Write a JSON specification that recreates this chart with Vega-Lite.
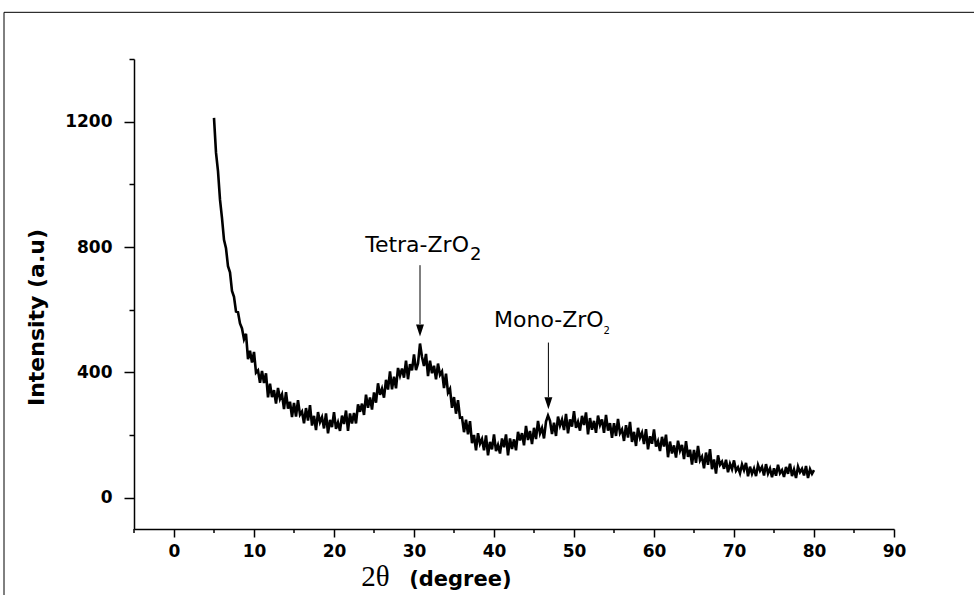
{
  "$schema": "https://vega.github.io/schema/vega-lite/v6.json",
  "width": 760,
  "height": 470,
  "autosize": "none",
  "padding": {"left": 134, "top": 59, "right": 80, "bottom": 66},
  "background": "white",
  "config": {"view": {"stroke": null}},
  "datasets": {
    "xrd": [
{"angle":5,"intensity":1212},{"angle":5.25,"intensity":1101},{"angle":5.5,"intensity":1042},{"angle":5.75,"intensity":951},{"angle":6,"intensity":892},{"angle":6.25,"intensity":823},{"angle":6.5,"intensity":796},{"angle":6.75,"intensity":739},{"angle":7,"intensity":719},{"angle":7.25,"intensity":660},{"angle":7.5,"intensity":641},{"angle":7.75,"intensity":594},{"angle":8,"intensity":592},{"angle":8.25,"intensity":556},{"angle":8.5,"intensity":540},{"angle":8.75,"intensity":506},{"angle":9,"intensity":523},{"angle":9.25,"intensity":442},{"angle":9.5,"intensity":469},{"angle":9.75,"intensity":431},{"angle":10,"intensity":465},{"angle":10.25,"intensity":399},{"angle":10.5,"intensity":406},{"angle":10.75,"intensity":367},{"angle":11,"intensity":404},{"angle":11.25,"intensity":366},{"angle":11.5,"intensity":397},{"angle":11.75,"intensity":320},{"angle":12,"intensity":364},{"angle":12.25,"intensity":321},{"angle":12.5,"intensity":343},{"angle":12.75,"intensity":300},{"angle":13,"intensity":350},{"angle":13.25,"intensity":315},{"angle":13.5,"intensity":330},{"angle":13.75,"intensity":283},{"angle":14,"intensity":337},{"angle":14.25,"intensity":284},{"angle":14.5,"intensity":306},{"angle":14.75,"intensity":257},{"angle":15,"intensity":302},{"angle":15.25,"intensity":259},{"angle":15.5,"intensity":311},{"angle":15.75,"intensity":265},{"angle":16,"intensity":275},{"angle":16.25,"intensity":237},{"angle":16.5,"intensity":286},{"angle":16.75,"intensity":246},{"angle":17,"intensity":295},{"angle":17.25,"intensity":230},{"angle":17.5,"intensity":261},{"angle":17.75,"intensity":216},{"angle":18,"intensity":273},{"angle":18.25,"intensity":241},{"angle":18.5,"intensity":257},{"angle":18.75,"intensity":221},{"angle":19,"intensity":269},{"angle":19.25,"intensity":205},{"angle":19.5,"intensity":248},{"angle":19.75,"intensity":225},{"angle":20,"intensity":273},{"angle":20.25,"intensity":220},{"angle":20.5,"intensity":240},{"angle":20.75,"intensity":213},{"angle":21,"intensity":262},{"angle":21.25,"intensity":235},{"angle":21.5,"intensity":278},{"angle":21.75,"intensity":213},{"angle":22,"intensity":269},{"angle":22.25,"intensity":237},{"angle":22.5,"intensity":270},{"angle":22.75,"intensity":237},{"angle":23,"intensity":298},{"angle":23.25,"intensity":274},{"angle":23.5,"intensity":300},{"angle":23.75,"intensity":264},{"angle":24,"intensity":329},{"angle":24.25,"intensity":287},{"angle":24.5,"intensity":320},{"angle":24.75,"intensity":281},{"angle":25,"intensity":336},{"angle":25.25,"intensity":303},{"angle":25.5,"intensity":365},{"angle":25.75,"intensity":328},{"angle":26,"intensity":348},{"angle":26.25,"intensity":319},{"angle":26.5,"intensity":376},{"angle":26.75,"intensity":345},{"angle":27,"intensity":403},{"angle":27.25,"intensity":346},{"angle":27.5,"intensity":386},{"angle":27.75,"intensity":349},{"angle":28,"intensity":414},{"angle":28.25,"intensity":389},{"angle":28.5,"intensity":412},{"angle":28.75,"intensity":383},{"angle":29,"intensity":437},{"angle":29.25,"intensity":378},{"angle":29.5,"intensity":426},{"angle":29.75,"intensity":406},{"angle":30,"intensity":457},{"angle":30.25,"intensity":407},{"angle":30.5,"intensity":428},{"angle":30.75,"intensity":492},{"angle":31,"intensity":449},{"angle":31.25,"intensity":420},{"angle":31.5,"intensity":459},{"angle":31.75,"intensity":388},{"angle":32,"intensity":437},{"angle":32.25,"intensity":397},{"angle":32.5,"intensity":421},{"angle":32.75,"intensity":378},{"angle":33,"intensity":428},{"angle":33.25,"intensity":392},{"angle":33.5,"intensity":403},{"angle":33.75,"intensity":350},{"angle":34,"intensity":396},{"angle":34.25,"intensity":335},{"angle":34.5,"intensity":347},{"angle":34.75,"intensity":287},{"angle":35,"intensity":321},{"angle":35.25,"intensity":268},{"angle":35.5,"intensity":311},{"angle":35.75,"intensity":255},{"angle":36,"intensity":256},{"angle":36.25,"intensity":209},{"angle":36.5,"intensity":249},{"angle":36.75,"intensity":202},{"angle":37,"intensity":244},{"angle":37.25,"intensity":174},{"angle":37.5,"intensity":200},{"angle":37.75,"intensity":151},{"angle":38,"intensity":206},{"angle":38.25,"intensity":172},{"angle":38.5,"intensity":187},{"angle":38.75,"intensity":151},{"angle":39,"intensity":199},{"angle":39.25,"intensity":135},{"angle":39.5,"intensity":178},{"angle":39.75,"intensity":154},{"angle":40,"intensity":202},{"angle":40.25,"intensity":149},{"angle":40.5,"intensity":168},{"angle":40.75,"intensity":141},{"angle":41,"intensity":189},{"angle":41.25,"intensity":161},{"angle":41.5,"intensity":202},{"angle":41.75,"intensity":135},{"angle":42,"intensity":189},{"angle":42.25,"intensity":155},{"angle":42.5,"intensity":186},{"angle":42.75,"intensity":151},{"angle":43,"intensity":210},{"angle":43.25,"intensity":183},{"angle":43.5,"intensity":206},{"angle":43.75,"intensity":167},{"angle":44,"intensity":229},{"angle":44.25,"intensity":184},{"angle":44.5,"intensity":213},{"angle":44.75,"intensity":171},{"angle":45,"intensity":223},{"angle":45.25,"intensity":187},{"angle":45.5,"intensity":245},{"angle":45.75,"intensity":205},{"angle":46,"intensity":222},{"angle":46.25,"intensity":189},{"angle":46.5,"intensity":243},{"angle":46.75,"intensity":262},{"angle":47,"intensity":245},{"angle":47.25,"intensity":203},{"angle":47.5,"intensity":239},{"angle":47.75,"intensity":197},{"angle":48,"intensity":259},{"angle":48.25,"intensity":230},{"angle":48.5,"intensity":249},{"angle":48.75,"intensity":216},{"angle":49,"intensity":267},{"angle":49.25,"intensity":205},{"angle":49.5,"intensity":250},{"angle":49.75,"intensity":227},{"angle":50,"intensity":276},{"angle":50.25,"intensity":223},{"angle":50.5,"intensity":242},{"angle":50.75,"intensity":214},{"angle":51,"intensity":261},{"angle":51.25,"intensity":232},{"angle":51.5,"intensity":272},{"angle":51.75,"intensity":202},{"angle":52,"intensity":254},{"angle":52.25,"intensity":217},{"angle":52.5,"intensity":245},{"angle":52.75,"intensity":207},{"angle":53,"intensity":262},{"angle":53.25,"intensity":232},{"angle":53.5,"intensity":250},{"angle":53.75,"intensity":207},{"angle":54,"intensity":264},{"angle":54.25,"intensity":214},{"angle":54.5,"intensity":238},{"angle":54.75,"intensity":191},{"angle":55,"intensity":238},{"angle":55.25,"intensity":197},{"angle":55.5,"intensity":251},{"angle":55.75,"intensity":206},{"angle":56,"intensity":218},{"angle":56.25,"intensity":181},{"angle":56.5,"intensity":231},{"angle":56.75,"intensity":192},{"angle":57,"intensity":242},{"angle":57.25,"intensity":178},{"angle":57.5,"intensity":210},{"angle":57.75,"intensity":165},{"angle":58,"intensity":223},{"angle":58.25,"intensity":191},{"angle":58.5,"intensity":207},{"angle":58.75,"intensity":171},{"angle":59,"intensity":219},{"angle":59.25,"intensity":154},{"angle":59.5,"intensity":196},{"angle":59.75,"intensity":172},{"angle":60,"intensity":218},{"angle":60.25,"intensity":163},{"angle":60.5,"intensity":180},{"angle":60.75,"intensity":149},{"angle":61,"intensity":194},{"angle":61.25,"intensity":163},{"angle":61.5,"intensity":201},{"angle":61.75,"intensity":129},{"angle":62,"intensity":179},{"angle":62.25,"intensity":141},{"angle":62.5,"intensity":167},{"angle":62.75,"intensity":128},{"angle":63,"intensity":182},{"angle":63.25,"intensity":150},{"angle":63.5,"intensity":168},{"angle":63.75,"intensity":123},{"angle":64,"intensity":180},{"angle":64.25,"intensity":130},{"angle":64.5,"intensity":153},{"angle":64.75,"intensity":106},{"angle":65,"intensity":152},{"angle":65.25,"intensity":111},{"angle":65.5,"intensity":165},{"angle":65.75,"intensity":119},{"angle":66,"intensity":131},{"angle":66.25,"intensity":94},{"angle":66.5,"intensity":144},{"angle":66.75,"intensity":105},{"angle":67,"intensity":155},{"angle":67.25,"intensity":91},{"angle":67.5,"intensity":122},{"angle":67.75,"intensity":77},{"angle":68,"intensity":135},{"angle":68.25,"intensity":105},{"angle":68.5,"intensity":115},{"angle":68.75,"intensity":92},{"angle":69,"intensity":121},{"angle":69.25,"intensity":81},{"angle":69.5,"intensity":108},{"angle":69.75,"intensity":91},{"angle":70,"intensity":119},{"angle":70.25,"intensity":86},{"angle":70.5,"intensity":97},{"angle":70.75,"intensity":78},{"angle":71,"intensity":106},{"angle":71.25,"intensity":88},{"angle":71.5,"intensity":111},{"angle":71.75,"intensity":68},{"angle":72,"intensity":99},{"angle":72.25,"intensity":76},{"angle":72.5,"intensity":93},{"angle":72.75,"intensity":69},{"angle":73,"intensity":104},{"angle":73.25,"intensity":86},{"angle":73.5,"intensity":98},{"angle":73.75,"intensity":71},{"angle":74,"intensity":107},{"angle":74.25,"intensity":77},{"angle":74.5,"intensity":93},{"angle":74.75,"intensity":65},{"angle":75,"intensity":94},{"angle":75.25,"intensity":70},{"angle":75.5,"intensity":105},{"angle":75.75,"intensity":78},{"angle":76,"intensity":88},{"angle":76.25,"intensity":66},{"angle":76.5,"intensity":98},{"angle":76.75,"intensity":76},{"angle":77,"intensity":108},{"angle":77.25,"intensity":69},{"angle":77.5,"intensity":90},{"angle":77.75,"intensity":63},{"angle":78,"intensity":99},{"angle":78.25,"intensity":81},{"angle":78.5,"intensity":92},{"angle":78.75,"intensity":71},{"angle":79,"intensity":101},{"angle":79.25,"intensity":63},{"angle":79.5,"intensity":91},{"angle":79.75,"intensity":76},{"angle":80,"intensity":88}
    ],
    "minorTicks": [{"tick": -5}, {"tick": 5}, {"tick": 15}, {"tick": 25}, {"tick": 35}, {"tick": 45}, {"tick": 55}, {"tick": 65}, {"tick": 75}, {"tick": 85}]
  },
  "layer": [
    {
      "data": {"name": "xrd"},
      "mark": {"type": "line", "color": "black", "strokeWidth": 2.6, "strokeJoin": "miter", "clip": true},
      "encoding": {
        "x": {
          "field": "angle", "type": "quantitative",
          "scale": {"domain": [-5, 90], "nice": false, "zero": false},
          "axis": {
            "title": null,
            "values": [0, 10, 20, 30, 40, 50, 60, 70, 80, 90],
            "tickSize": 8,
            "labelPadding": 6,
            "grid": false,
            "domainColor": "black", "domainWidth": 1.5,
            "tickColor": "black", "tickWidth": 1.5,
            "labelFont": "DejaVu Sans", "labelFontWeight": "bold", "labelFontSize": 17, "labelColor": "black",
            "labelFlush": false, "labelOverlap": false
          }
        },
        "y": {
          "field": "intensity", "type": "quantitative",
          "scale": {"domain": [-100, 1400], "nice": false, "zero": false},
          "axis": {
            "title": "Intensity (a.u)",
            "values": [0, 200, 400, 600, 800, 1000, 1200, 1400],
            "format": "d",
            "labelExpr": "datum.value % 400 === 0 ? datum.label : ''",
            "tickSize": {"condition": {"test": "datum.value % 400 === 0", "value": 10}, "value": 5},
            "labelPadding": 12,
            "grid": false,
            "domainColor": "black", "domainWidth": 1.5,
            "tickColor": "black", "tickWidth": 1.5,
            "labelFont": "DejaVu Sans", "labelFontWeight": "bold", "labelFontSize": 17, "labelColor": "black",
            "labelFlush": false, "labelOverlap": false,
            "titleFont": "DejaVu Sans", "titleFontWeight": "bold", "titleFontSize": 22, "titleColor": "black",
            "titleAngle": 270, "titleAlign": "center", "titleBaseline": "alphabetic",
            "titleX": -91, "titleY": 258
          }
        }
      }
    },
    {
      "data": {"name": "minorTicks"},
      "mark": {"type": "rule", "color": "black", "strokeWidth": 1.5},
      "encoding": {"x": {"field": "tick", "type": "quantitative"}, "y": {"datum": -100}, "y2": {"datum": -113}}
    },
    {
      "data": {"values": [{}]},
      "mark": {"type": "rule", "color": "black", "strokeWidth": 1},
      "encoding": {"x": {"datum": 30.75}, "y": {"datum": 742}, "y2": {"datum": 554}}
    },
    {
      "data": {"values": [{}]},
      "mark": {"type": "point", "shape": "M-0.33,-1L0.33,-1L0,0Z", "size": 576, "filled": true, "color": "black", "opacity": 1, "strokeWidth": 0},
      "encoding": {"x": {"datum": 30.75}, "y": {"datum": 514}}
    },
    {
      "data": {"values": [{}]},
      "mark": {"type": "rule", "color": "black", "strokeWidth": 1},
      "encoding": {"x": {"datum": 46.8}, "y": {"datum": 495}, "y2": {"datum": 321}}
    },
    {
      "data": {"values": [{}]},
      "mark": {"type": "point", "shape": "M-0.33,-1L0.33,-1L0,0Z", "size": 576, "filled": true, "color": "black", "opacity": 1, "strokeWidth": 0},
      "encoding": {"x": {"datum": 46.8}, "y": {"datum": 282}}
    },
    {
      "data": {"values": [{}]},
      "mark": {"type": "text", "text": "Tetra-ZrO", "font": "DejaVu Sans", "fontSize": 22, "align": "left", "baseline": "alphabetic", "color": "black"},
      "encoding": {"x": {"datum": 23.9}, "y": {"datum": 783}}
    },
    {
      "data": {"values": [{}]},
      "mark": {"type": "text", "text": "2", "font": "DejaVu Sans", "fontSize": 18, "align": "left", "baseline": "alphabetic", "color": "black"},
      "encoding": {"x": {"datum": 37.0}, "y": {"datum": 759}}
    },
    {
      "data": {"values": [{}]},
      "mark": {"type": "text", "text": "Mono-ZrO", "font": "DejaVu Sans", "fontSize": 22, "align": "left", "baseline": "alphabetic", "color": "black"},
      "encoding": {"x": {"datum": 40.0}, "y": {"datum": 546}}
    },
    {
      "data": {"values": [{}]},
      "mark": {"type": "text", "text": "2", "font": "DejaVu Sans", "fontSize": 10, "align": "left", "baseline": "alphabetic", "color": "black"},
      "encoding": {"x": {"datum": 53.7}, "y": {"datum": 521}}
    },
    {
      "data": {"values": [{}]},
      "mark": {"type": "text", "text": "2θ", "font": "Liberation Serif", "fontSize": 29, "align": "left", "baseline": "alphabetic", "color": "black"},
      "encoding": {"x": {"datum": 23.4}, "y": {"datum": -282}}
    },
    {
      "data": {"values": [{}]},
      "mark": {"type": "text", "text": "(degree)", "font": "DejaVu Sans", "fontWeight": "bold", "fontSize": 21, "align": "left", "baseline": "alphabetic", "color": "black"},
      "encoding": {"x": {"datum": 29.4}, "y": {"datum": -282}}
    },
    {
      "data": {"values": [{}]},
      "mark": {"type": "rule", "color": "black", "strokeWidth": 1},
      "encoding": {"x": {"datum": -21.25}, "x2": {"datum": 102}, "y": {"datum": 1549}}
    },
    {
      "data": {"values": [{}]},
      "mark": {"type": "rule", "color": "black", "strokeWidth": 1},
      "encoding": {"x": {"datum": -21.25}, "y": {"datum": 1549}, "y2": {"datum": -330}}
    }
  ]
}
